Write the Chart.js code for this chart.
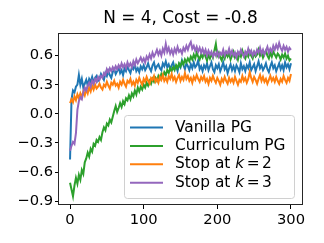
<!DOCTYPE html>
<html>
<head>
<meta charset="utf-8">
<script src="https://cdn.jsdelivr.net/npm/chart.js@4"></script>
<style>
  html, body { margin: 0; padding: 0; background: #fff; }
  canvas { display: block; }
</style>
</head>
<body>
<canvas id="chart" width="324" height="243"></canvas>
<script>
const chartTitle = 'N = 4, Cost = -0.8';
const seriesNames = ['Vanilla PG', 'Curriculum PG', 'Stop at k = 2', 'Stop at k = 3'];
const seriesColors = ['#1f77b4', '#2ca02c', '#ff7f0e', '#9467bd'];
const xTicks = [0, 100, 200, 300];
const yTicks = [-0.9, -0.6, -0.3, 0, 0.3, 0.6];

// training step of each sample (read every 2 steps)
const steps = [0,2,4,6,8,10,12,14,16,18,20,22,24,26,28,30,32,34,36,38,
  40,42,44,46,48,50,52,54,56,58,60,62,64,66,68,70,72,74,76,78,
  80,82,84,86,88,90,92,94,96,98,100,102,104,106,108,110,112,114,116,118,
  120,122,124,126,128,130,132,134,136,138,140,142,144,146,148,150,152,154,156,158,
  160,162,164,166,168,170,172,174,176,178,180,182,184,186,188,190,192,194,196,198,
  200,202,204,206,208,210,212,214,216,218,220,222,224,226,228,230,232,234,236,238,
  240,242,244,246,248,250,252,254,256,258,260,262,264,266,268,270,272,274,276,278,
  280,282,284,286,288,290,292,294,296,298,300];

const vanillaPG = [
  -0.47,0.15,0.24,0.22,0.28,0.30,0.40,0.30,0.36,0.27,
  0.31,0.35,0.29,0.36,0.33,0.38,0.32,0.37,0.39,0.34,
  0.36,0.41,0.38,0.35,0.42,0.39,0.44,0.40,0.37,0.43,
  0.46,0.41,0.44,0.48,0.42,0.45,0.40,0.47,0.44,0.49,
  0.45,0.42,0.48,0.46,0.51,0.44,0.47,0.43,0.49,0.46,
  0.50,0.45,0.48,0.52,0.47,0.44,0.50,0.53,0.46,0.49,
  0.51,0.47,0.45,0.52,0.49,0.54,0.48,0.51,0.46,0.50,
  0.53,0.47,0.49,0.44,0.51,0.48,0.55,0.50,0.46,0.52,
  0.49,0.45,0.51,0.47,0.53,0.48,0.50,0.55,0.46,0.49,
  0.44,0.50,0.47,0.52,0.45,0.49,0.53,0.46,0.43,0.50,
  0.47,0.51,0.44,0.48,0.53,0.46,0.49,0.42,0.47,0.51,
  0.45,0.49,0.44,0.50,0.47,0.43,0.52,0.46,0.49,0.44,
  0.50,0.47,0.53,0.45,0.48,0.51,0.44,0.49,0.54,0.47,
  0.50,0.45,0.48,0.52,0.46,0.43,0.49,0.53,0.47,0.50,
  0.44,0.48,0.52,0.46,0.50,0.45,0.53,0.48,0.51,0.46,
  0.52];

const curriculumPG = [
  -0.71,-0.78,-0.85,-0.74,-0.66,-0.72,-0.63,-0.68,-0.58,-0.62,
  -0.50,-0.46,-0.40,-0.44,-0.36,-0.39,-0.31,-0.33,-0.27,-0.29,
  -0.24,-0.27,-0.19,-0.14,-0.17,-0.10,-0.12,-0.06,-0.09,-0.03,
  0.03,0.08,0.02,0.06,0.11,0.07,0.13,0.10,0.16,0.14,
  0.19,0.15,0.21,0.18,0.24,0.20,0.27,0.23,0.28,0.25,
  0.30,0.27,0.32,0.29,0.34,0.31,0.36,0.33,0.37,0.34,
  0.39,0.36,0.41,0.38,0.43,0.40,0.45,0.42,0.47,0.44,
  0.48,0.45,0.50,0.47,0.52,0.49,0.54,0.51,0.56,0.53,
  0.57,0.54,0.59,0.56,0.61,0.57,0.63,0.59,0.56,0.61,
  0.58,0.63,0.59,0.55,0.61,0.57,0.62,0.58,0.65,0.72,
  0.60,0.63,0.58,0.55,0.61,0.57,0.63,0.59,0.62,0.56,
  0.60,0.64,0.58,0.61,0.56,0.62,0.59,0.65,0.60,0.57,
  0.62,0.59,0.64,0.60,0.57,0.63,0.59,0.61,0.66,0.60,
  0.63,0.58,0.62,0.65,0.60,0.57,0.63,0.59,0.64,0.61,
  0.58,0.62,0.60,0.56,0.61,0.58,0.62,0.57,0.60,0.55,
  0.57];

const stopK2 = [
  0.11,0.15,0.12,0.18,0.14,0.20,0.16,0.21,0.17,0.23,
  0.19,0.25,0.21,0.27,0.23,0.29,0.25,0.30,0.26,0.28,
  0.31,0.27,0.25,0.30,0.28,0.33,0.29,0.26,0.32,0.30,
  0.34,0.29,0.31,0.27,0.33,0.30,0.35,0.31,0.28,0.34,
  0.32,0.36,0.30,0.33,0.29,0.35,0.32,0.37,0.33,0.30,
  0.36,0.33,0.38,0.34,0.31,0.37,0.35,0.39,0.33,0.36,
  0.32,0.38,0.35,0.40,0.34,0.37,0.33,0.39,0.36,0.41,
  0.35,0.38,0.33,0.37,0.40,0.34,0.38,0.35,0.42,0.36,
  0.39,0.34,0.37,0.32,0.38,0.35,0.40,0.36,0.33,0.38,
  0.35,0.39,0.33,0.36,0.31,0.37,0.34,0.39,0.35,0.32,
  0.37,0.34,0.30,0.36,0.33,0.38,0.34,0.31,0.37,0.33,
  0.36,0.32,0.38,0.34,0.30,0.35,0.33,0.39,0.34,0.37,
  0.32,0.36,0.43,0.37,0.33,0.38,0.35,0.31,0.36,0.40,
  0.34,0.38,0.33,0.36,0.31,0.35,0.39,0.34,0.37,0.33,
  0.38,0.34,0.31,0.36,0.33,0.39,0.35,0.32,0.37,0.34,
  0.41];

const stopK3 = [
  -0.38,-0.33,-0.29,-0.31,-0.20,0.04,0.13,0.17,0.15,0.22,
  0.27,0.24,0.29,0.32,0.28,0.34,0.31,0.36,0.33,0.38,
  0.35,0.39,0.37,0.42,0.40,0.46,0.43,0.47,0.44,0.48,
  0.45,0.49,0.46,0.50,0.47,0.52,0.48,0.51,0.47,0.53,
  0.49,0.52,0.48,0.54,0.50,0.56,0.52,0.55,0.58,0.54,
  0.57,0.53,0.59,0.56,0.61,0.57,0.63,0.59,0.62,0.66,
  0.61,0.65,0.60,0.67,0.63,0.72,0.64,0.68,0.62,0.66,
  0.61,0.67,0.63,0.69,0.64,0.66,0.62,0.68,0.65,0.70,
  0.66,0.71,0.74,0.67,0.70,0.65,0.69,0.64,0.68,0.63,
  0.67,0.62,0.66,0.60,0.65,0.61,0.64,0.59,0.63,0.60,
  0.64,0.59,0.63,0.61,0.66,0.60,0.64,0.62,0.67,0.61,
  0.65,0.60,0.63,0.58,0.64,0.61,0.66,0.62,0.59,0.64,
  0.61,0.67,0.62,0.65,0.60,0.64,0.61,0.66,0.63,0.68,
  0.62,0.66,0.61,0.65,0.69,0.63,0.67,0.64,0.70,0.66,
  0.71,0.67,0.73,0.68,0.65,0.70,0.66,0.69,0.64,0.68,
  0.66];

const seriesValues = [vanillaPG, curriculumPG, stopK2, stopK3];
const FONT = 'DejaVu Sans';

// axes frame on all four sides
const frame = {
  id: 'frame',
  afterDraw(chart) {
    const { ctx, chartArea: a } = chart;
    ctx.save();
    ctx.strokeStyle = '#262626';
    ctx.lineWidth = 1;
    ctx.strokeRect(Math.round(a.left) - 0.5, Math.round(a.top) + 0.5,
      Math.round(a.right - a.left) + 1, Math.round(a.bottom - a.top) - 1);
    ctx.restore();
  }
};

// matplotlib-like legend in the lower right, with italic k
const legendBox = {
  id: 'legendBox',
  afterDraw(chart) {
    const { ctx, chartArea: a } = chart;
    const w = 170, h = 83;
    const x = a.right - 8 - w, y = a.bottom - 7 - h;
    ctx.save();
    ctx.beginPath();
    ctx.roundRect(x + 0.5, y + 0.5, w, h, 3);
    ctx.fillStyle = 'rgba(255,255,255,0.8)';
    ctx.fill();
    ctx.strokeStyle = '#d0d0d0';
    ctx.lineWidth = 1;
    ctx.stroke();
    const font = '15.4px "' + FONT + '"';
    ctx.textBaseline = 'middle';
    chart.data.datasets.forEach((ds, i) => {
      const cy = y + 12.5 + i * 18.4;
      ctx.strokeStyle = ds.borderColor;
      ctx.lineWidth = 2;
      ctx.beginPath();
      ctx.moveTo(x + 6, cy);
      ctx.lineTo(x + 39, cy);
      ctx.stroke();
      ctx.fillStyle = '#000';
      ctx.font = font;
      let tx = x + 51;
      const m = ds.label.match(/^(.*) k = (.*)$/);
      if (!m) {
        ctx.fillText(ds.label, tx, cy);
        return;
      }
      const head = m[1] + ' ';
      ctx.fillText(head, tx, cy);
      tx += ctx.measureText(head).width;
      ctx.font = 'italic ' + font;
      ctx.fillText('k', tx, cy);
      tx += ctx.measureText('k').width + 2.5;
      ctx.font = font;
      ctx.fillText('=', tx, cy);
      tx += ctx.measureText('=').width + 2.5;
      ctx.fillText(m[2], tx, cy);
    });
    ctx.restore();
  }
};

const fmtY = v => {
  const s = Math.abs(v) < 1e-9 ? '0.0' : v.toFixed(1);
  return s.replace('-', '\u2212');
};

new Chart(document.getElementById('chart'), {
  type: 'line',
  data: {
    datasets: seriesNames.map((name, i) => ({
      label: name,
      data: steps.map((s, j) => ({ x: s, y: seriesValues[i][j] })),
      borderColor: seriesColors[i],
      backgroundColor: seriesColors[i],
      borderWidth: 2,
      pointRadius: 0,
      tension: 0,
      fill: false,
      order: seriesNames.length - i
    }))
  },
  options: {
    responsive: false,
    animation: false,
    layout: { padding: { left: 0, right: 22, top: 0, bottom: 0 } },
    plugins: {
      legend: { display: false },
      tooltip: { enabled: false },
      title: {
        display: true,
        text: chartTitle,
        fullSize: false,
        color: '#000',
        font: { family: FONT, size: 16.9, weight: 'normal' },
        padding: { top: 8, bottom: 5 }
      }
    },
    scales: {
      x: {
        type: 'linear',
        min: -15,
        max: 315,
        afterBuildTicks: s => { s.ticks = xTicks.map(v => ({ value: v })); },
        afterFit: s => { s.height = 38; },
        grid: { drawOnChartArea: false, drawTicks: true, tickLength: 4, color: '#000' },
        border: { display: false },
        ticks: { color: '#000', padding: 2, maxRotation: 0, autoSkip: false,
          font: { family: FONT, size: 14.7 } }
      },
      y: {
        min: -0.94,
        max: 0.83,
        afterBuildTicks: s => { s.ticks = yTicks.map(v => ({ value: v })); },
        afterFit: s => { s.width = 59; },
        grid: { drawOnChartArea: false, drawTicks: true, tickLength: 4, color: '#000' },
        border: { display: false },
        ticks: { color: '#000', padding: 2, autoSkip: false, callback: fmtY,
          font: { family: FONT, size: 14.7 } }
      }
    }
  },
  plugins: [frame, legendBox]
});
</script>
</body>
</html>
